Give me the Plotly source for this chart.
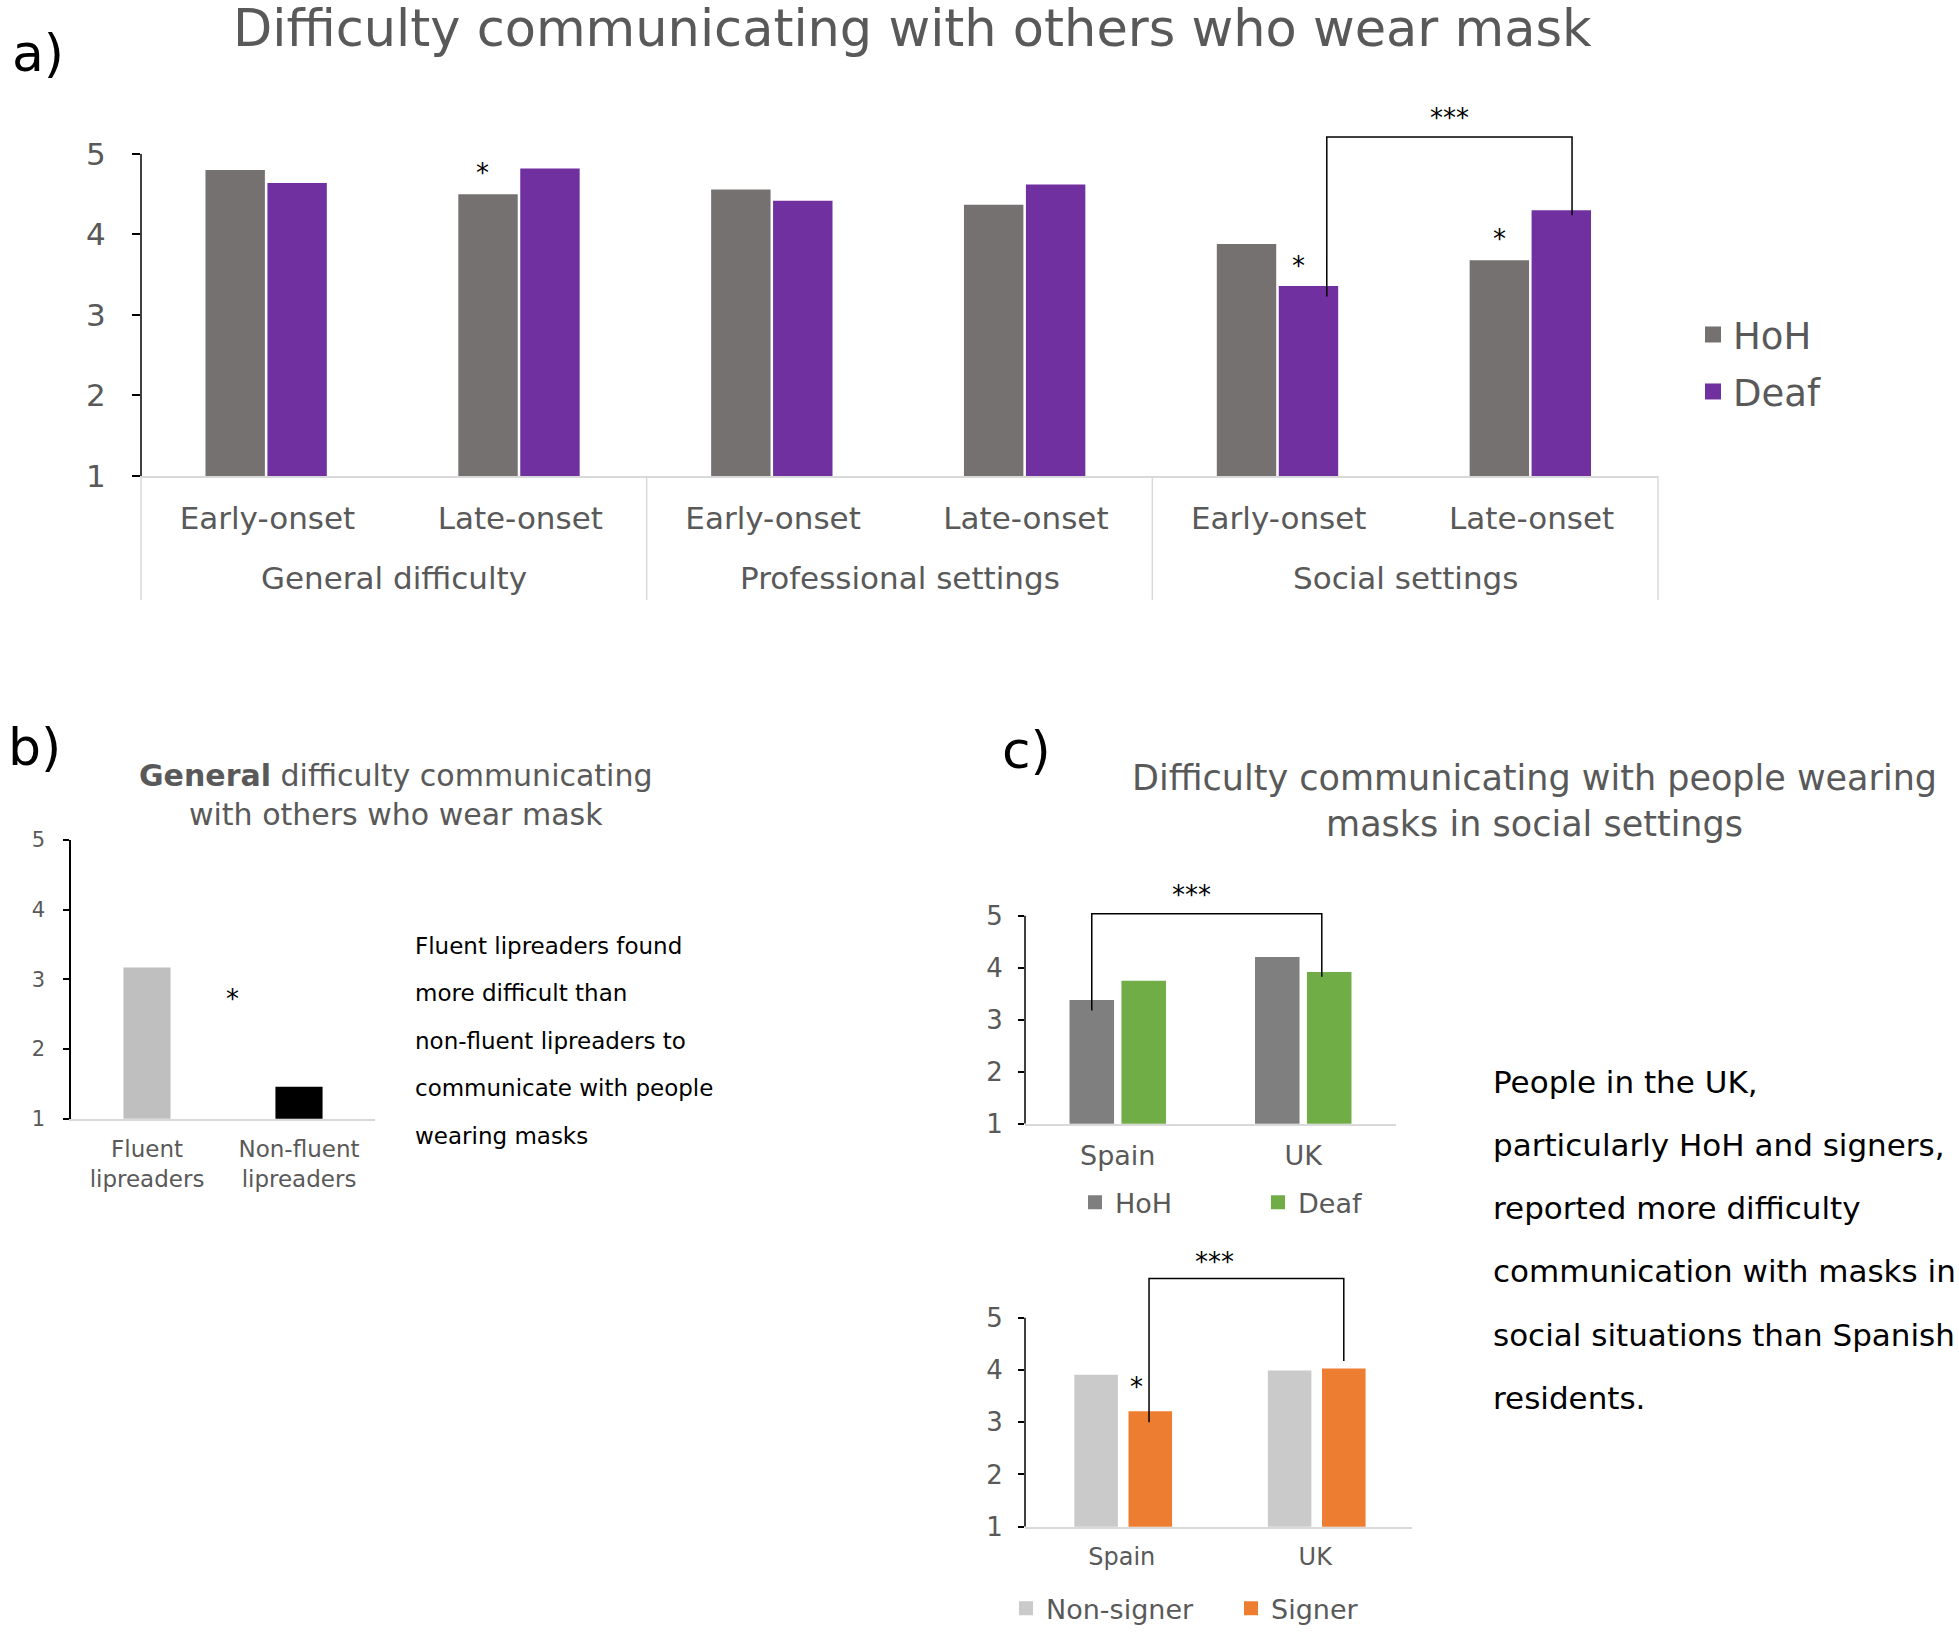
import plotly.graph_objects as go

W = 1959
H_FIG = 1648
# empirical mapping between target picture rows and page rows
Y_OFF = 12.0
Y_SCALE = 0.982
FONT = "DejaVu Sans"
TXT = "#595959"
BASE = "#D9D9D9"

# ---------------- data ----------------
A_SUBCATS = ["Early-onset", "Late-onset", "Early-onset", "Late-onset", "Early-onset", "Late-onset"]
A_GROUPS = ["General difficulty", "Professional settings", "Social settings"]
A_HOH = [4.80, 4.50, 4.56, 4.37, 3.88, 3.68]
A_DEAF = [4.64, 4.82, 4.42, 4.62, 3.36, 4.30]

B_CATS = ["Fluent<br>lipreaders", "Non-fluent<br>lipreaders"]
B_VALS = [3.17, 1.46]

C1_CATS = ["Spain", "UK"]
C1_HOH = [3.38, 4.21]
C1_DEAF = [3.75, 3.92]

C2_CATS = ["Spain", "UK"]
C2_NONSIGNER = [3.91, 3.99]
C2_SIGNER = [3.21, 4.03]

Y_TICKS = [1, 2, 3, 4, 5]

B_NOTE = ["Fluent lipreaders found", "more difficult than", "non-fluent lipreaders to",
          "communicate with people", "wearing masks"]
C_NOTE = ["People in the UK,", "particularly HoH and signers,", "reported more difficulty",
          "communication with masks in", "social situations than Spanish", "residents."]

# ---------------- colours / geometry ----------------
COL_A = ["#767171", "#7030A0"]
COL_B = ["#BFBFBF", "#000000"]
COL_C1 = ["#7F7F7F", "#70AD47"]
COL_C2 = ["#CACACA", "#ED7D31"]

A_OFF, A_W = (-0.245, 0.0), 0.235
B_W = 0.31
C1_OFF, C1_W = (-0.26, 0.02), 0.24
C2_OFF, C2_W = (-0.245, 0.035), 0.225

A_YTOP, C1_YTOP, C2_YTOP = 5.6, 5.6, 6.25


def px_x(x):
    return x / W


def page_y(t):
    return (t - Y_OFF) / Y_SCALE


def px_y(t):
    return 1 - page_y(t) / H_FIG


def ydomain(bottom_px, unit_px, lo, hi):
    return [px_y(bottom_px), px_y(bottom_px - (hi - lo) * unit_px)]


def center(off, w):
    return off + w / 2


fig = go.Figure()

# ---- panel a ----
idx_a = list(range(len(A_SUBCATS)))
for k, (name, vals) in enumerate([("HoH", A_HOH), ("Deaf", A_DEAF)]):
    fig.add_trace(go.Bar(x=idx_a, y=vals, offset=A_OFF[k], width=A_W, name=name,
                         marker=dict(color=COL_A[k], line=dict(width=0)),
                         xaxis="x", yaxis="y", showlegend=False))
    fig.add_trace(go.Scatter(x=[None], y=[None], mode="markers", name=name,
                             marker=dict(symbol="square", size=16, color=COL_A[k]),
                             xaxis="x", yaxis="y", legend="legend" if k == 0 else "legend2"))

# ---- panel b ----
fig.add_trace(go.Bar(x=list(range(len(B_CATS))), y=B_VALS, width=B_W,
                     marker=dict(color=COL_B, line=dict(width=0)),
                     xaxis="x2", yaxis="y2", showlegend=False))

# ---- panel c top ----
idx_c = [0, 1]
for k, (name, vals) in enumerate([("HoH", C1_HOH), ("Deaf", C1_DEAF)]):
    fig.add_trace(go.Bar(x=idx_c, y=vals, offset=C1_OFF[k], width=C1_W, name=name,
                         marker=dict(color=COL_C1[k], line=dict(width=0)),
                         xaxis="x3", yaxis="y3", showlegend=False))
    fig.add_trace(go.Scatter(x=[None], y=[None], mode="markers", name=name,
                             marker=dict(symbol="square", size=14, color=COL_C1[k]),
                             xaxis="x3", yaxis="y3", legend="legend3" if k == 0 else "legend4"))

# ---- panel c bottom ----
for k, (name, vals) in enumerate([("Non-signer", C2_NONSIGNER), ("Signer", C2_SIGNER)]):
    fig.add_trace(go.Bar(x=idx_c, y=vals, offset=C2_OFF[k], width=C2_W, name=name,
                         marker=dict(color=COL_C2[k], line=dict(width=0)),
                         xaxis="x4", yaxis="y4", showlegend=False))
    fig.add_trace(go.Scatter(x=[None], y=[None], mode="markers", name=name,
                             marker=dict(symbol="square", size=14, color=COL_C2[k]),
                             xaxis="x4", yaxis="y4", legend="legend5" if k == 0 else "legend6"))


def xaxis(dom, n, ticktext, size, anchor, standoff):
    return dict(domain=dom, range=[-0.5, n - 0.5], tickvals=list(range(n)), ticktext=ticktext,
                ticks="", showline=True, linecolor=BASE, linewidth=1.5, showgrid=False,
                zeroline=False, tickfont=dict(family=FONT, size=size, color=TXT),
                ticklabelstandoff=standoff, anchor=anchor, fixedrange=True)


def yaxis(dom, top, size, anchor, ticklen, standoff, showline=False):
    return dict(domain=dom, range=[1, top], tickvals=Y_TICKS, ticks="outside", ticklen=ticklen,
                tickwidth=1.5, tickcolor="black", showline=showline, linecolor="black",
                linewidth=1.5, showgrid=False, zeroline=False,
                tickfont=dict(family=FONT, size=size, color=TXT), ticklabelstandoff=standoff,
                anchor=anchor, fixedrange=True)


layout = dict(
    width=W, height=H_FIG, margin=dict(l=0, r=0, t=0, b=0),
    paper_bgcolor="white", plot_bgcolor="white", barmode="overlay",
    font=dict(family=FONT, color=TXT),
    xaxis=xaxis([px_x(141), px_x(1658)], 6, A_SUBCATS, 31, "y", 14),
    yaxis=yaxis(ydomain(476, 80.5, 1, A_YTOP), A_YTOP, 31, "x", 8, 20),
    xaxis2=xaxis([px_x(71), px_x(375)], 2, B_CATS, 23, "y2", 9),
    yaxis2=yaxis(ydomain(1119, 69.75, 1, 5), 5, 21, "x2", 6, 14, showline=True),
    xaxis3=xaxis([px_x(1025), px_x(1396)], 2, C1_CATS, 27, "y3", 7),
    yaxis3=yaxis(ydomain(1124, 52, 1, C1_YTOP), C1_YTOP, 26, "x3", 6, 10),
    xaxis4=xaxis([px_x(1025), px_x(1412)], 2, C2_CATS, 24, "y4", 8),
    yaxis4=yaxis(ydomain(1527, 52.25, 1, C2_YTOP), C2_YTOP, 26, "x4", 6, 10),
)


def leg(xp, yp, size):
    return dict(x=px_x(xp), y=px_y(yp), xanchor="left", yanchor="middle",
                bgcolor="rgba(0,0,0,0)", font=dict(family=FONT, size=size, color=TXT))


layout["legend"] = leg(1693, 335, 37)
layout["legend2"] = leg(1693, 392, 37)
layout["legend3"] = leg(1075, 1203, 27)
layout["legend4"] = leg(1258, 1203, 27)
layout["legend5"] = leg(1006, 1609, 27)
layout["legend6"] = leg(1231, 1609, 27)
fig.update_layout(**layout)

shapes = []
# y axis lines (1..5) for panels with headroom above 5
for xr, yr in [("x", "y"), ("x3", "y3"), ("x4", "y4")]:
    shapes.append(dict(type="line", xref=xr + " domain", yref=yr, x0=0, x1=0, y0=1, y1=5,
                       line=dict(color="black", width=1.5)))
# panel a group dividers
for xd in [0, 1]:
    shapes.append(dict(type="line", xref="x domain", yref="paper", x0=xd, x1=xd,
                       y0=px_y(476), y1=px_y(600), line=dict(color=BASE, width=1.5)))
for xv in [1.5, 3.5]:
    shapes.append(dict(type="line", xref="x", yref="paper", x0=xv, x1=xv,
                       y0=px_y(476), y1=px_y(600), line=dict(color=BASE, width=1.5)))


def bracket(xr, yr, x0, y0, x1, y1, top):
    return dict(type="path", xref=xr, yref=yr, layer="above",
                path=f"M {x0},{y0} L {x0},{top} L {x1},{top} L {x1},{y1}",
                line=dict(color="black", width=1.5))


A_BR = dict(x0=4.19, y0=A_DEAF[4] - 0.13, x1=5.16, y1=A_DEAF[5] - 0.06, top=5.21)
C1_BR = dict(x0=center(C1_OFF[0], C1_W), y0=C1_HOH[0] - 0.2, x1=1.10, y1=C1_DEAF[1] - 0.09, top=5.04)
C2_BR = dict(x0=0.141, y0=C2_SIGNER[0] - 0.21, x1=1 + center(C2_OFF[1], C2_W),
             y1=C2_SIGNER[1] + 0.14, top=5.75)
shapes.append(bracket("x", "y", **A_BR))
shapes.append(bracket("x3", "y3", **C1_BR))
shapes.append(bracket("x4", "y4", **C2_BR))
fig.update_layout(shapes=shapes)

anns = []


def ann(text, x, y, size, color=TXT, xanchor="center", yanchor="middle",
        xref="paper", yref="paper", yshift=0):
    anns.append(dict(text=text, x=x, y=y, xref=xref, yref=yref, showarrow=False,
                     xanchor=xanchor, yanchor=yanchor, align="center", yshift=yshift,
                     font=dict(family=FONT, size=size, color=color)))


# titles and panel letters
ann("Difficulty communicating with others who wear mask", px_x(912), px_y(29), 51)
ann("<b>General</b> difficulty communicating<br>with others who wear mask", px_x(396), px_y(795), 30)
ann("Difficulty communicating with people wearing<br>masks in social settings", px_x(1534), px_y(801), 35)
ann("a)", px_x(10), px_y(53), 52, color="black", xanchor="left")
ann("b)", px_x(6), px_y(747), 52, color="black", xanchor="left")
ann("c)", px_x(1000), px_y(750), 52, color="black", xanchor="left")

# panel a group labels
for gi, g in enumerate(A_GROUPS):
    ann(g, 2 * gi + 0.5, px_y(578), 31, xref="x")

# notes
for i, line in enumerate(B_NOTE):
    ann(line, px_x(413), px_y(946 + i * 47.5), 23, color="black", xanchor="left")
for i, line in enumerate(C_NOTE):
    ann(line, px_x(1491), px_y(1082 + i * 63.2), 31, color="black", xanchor="left")

# significance stars
STAR = 26
STAR_SHIFT = -3
ann("*", 1 + center(A_OFF[0], A_W) - 0.02, A_HOH[1] + 0.30, STAR, "black", xref="x", yref="y", yshift=STAR_SHIFT)
ann("*", 4 + center(A_OFF[1], A_W) - 0.04, A_DEAF[4] + 0.28, STAR, "black", xref="x", yref="y", yshift=STAR_SHIFT)
ann("*", 5 + center(A_OFF[0], A_W), A_HOH[5] + 0.30, STAR, "black", xref="x", yref="y", yshift=STAR_SHIFT)
ann("***", (A_BR["x0"] + A_BR["x1"]) / 2, A_BR["top"] + 0.27, STAR, "black", xref="x", yref="y", yshift=STAR_SHIFT)
ann("*", 0.56, 2.76, STAR, "black", xref="x2", yref="y2", yshift=STAR_SHIFT)
ann("***", 0.40, C1_BR["top"] + 0.42, STAR, "black", xref="x3", yref="y3", yshift=STAR_SHIFT)
ann("*", center(C2_OFF[1], C2_W) - 0.07, C2_SIGNER[0] + 0.53, STAR, "black", xref="x4", yref="y4", yshift=STAR_SHIFT)
ann("***", 0.477, C2_BR["top"] + 0.38, STAR, "black", xref="x4", yref="y4", yshift=STAR_SHIFT)

fig.update_layout(annotations=anns)

fig.write_html("out.html", config={"displayModeBar": False},
               post_script="document.body.style.margin='0';document.documentElement.style.margin='0';")
